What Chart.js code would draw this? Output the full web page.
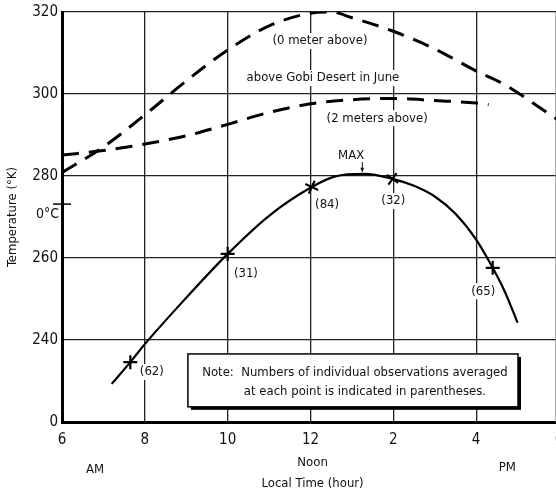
<!DOCTYPE html>
<html>
<head>
<meta charset="utf-8">
<title>Temperature above Gobi Desert in June</title>
<script src="https://cdn.jsdelivr.net/npm/chart.js@4.4.1/dist/chart.umd.min.js"></script>
<style>
  html, body { margin: 0; padding: 0; background: #fff; overflow: hidden; }
  canvas { display: block; }
</style>
</head>
<body>
<canvas id="chart" width="562" height="491"></canvas>
<script>
// ground surface (0 meter above)
var hours0m = [6, 7, 8, 9, 10, 11, 12, 12.5, 13, 14, 15, 16, 16.7, 17.3, 18];
var temps0m = [280.8, 287.1, 294.9, 303.2, 310.7, 316.6, 319.7, 320, 318.6, 315.3, 311, 305.6, 302.2, 298.3, 293.5];

// 2 meters above
var hours2m = [6, 7, 8, 9, 10, 11, 12, 13, 14, 15, 16, 16.3];
var temps2m = [285.1, 286.2, 287.8, 289.8, 292.6, 295.5, 297.6, 298.6, 298.9, 298.4, 297.8, 297.4];

// observed curve
var hoursObs = [7.2, 7.65, 8, 9, 10, 11, 12.03, 12.6, 13.3, 13.98, 14.5, 15, 15.5, 16, 16.4, 16.7, 17];
var tempsObs = [229.3, 234.6, 239, 250.3, 261, 270.3, 277.3, 279.9, 280.5, 279.3, 277.6, 275, 270.8, 264.5, 257.6, 251.6, 244.2];

// averaged points and number of observations
var pointHours = [7.65, 10, 12.03, 13.98, 16.4];
var pointTemps = [234.6, 261, 277.3, 279.3, 257.6];
var pointCounts = ['(62)', '(31)', '(84)', '(32)', '(65)'];

var xTicks = [6, 8, 10, 12, 2, 4, 6];
var yTicks = ['0', '240', '260', '280', '300', '320'];

var FONT = "'Liberation Sans Narrow', 'DejaVu Sans Condensed', 'Arial Narrow', sans-serif";

function toPoints(xs, ys) {
  return xs.map(function (x, i) { return { x: x, y: ys[i] }; });
}

// text placed in data units: [text, hour, temp]
var notes = [
  ['(0 meter above)', 12.23, 312.9],
  ['above Gobi Desert in June', 12.3, 303.9],
  ['(2 meters above)', 13.61, 294.1],
  ['MAX', 12.98, 284.9]
];
var countPos = [[8.17, 232.2], [10.44, 256.3], [12.4, 272.9], [14.0, 273.9], [16.17, 251.9]];

var extras = {
  id: 'extras',
  beforeDatasetsDraw: function (chart) {
    var ctx = chart.ctx, x = chart.scales.x, y = chart.scales.y, a = chart.chartArea;
    ctx.save();
    ctx.font = '13px ' + FONT;
    ctx.fillStyle = '#fff';
    notes.forEach(function (n) {
      var w = ctx.measureText(n[0]).width;
      ctx.fillRect(x.getPixelForValue(n[1]) - w / 2 - 2, y.getPixelForValue(n[2]) - 8, w + 4, 16);
    });
    countPos.forEach(function (p, i) {
      var w = ctx.measureText(pointCounts[i]).width;
      ctx.fillRect(x.getPixelForValue(p[0]) - w / 2 - 2, y.getPixelForValue(p[1]) - 8, w + 4, 16);
    });
    // right frame line
    ctx.strokeStyle = '#888';
    ctx.lineWidth = 1.5;
    ctx.beginPath();
    ctx.moveTo(x.getPixelForValue(17.93), a.top);
    ctx.lineTo(x.getPixelForValue(17.93), a.bottom);
    ctx.stroke();
    ctx.restore();
  },
  afterDatasetsDraw: function (chart) {
    var ctx = chart.ctx, x = chart.scales.x, y = chart.scales.y, a = chart.chartArea;
    ctx.save();
    ctx.fillStyle = '#111';
    ctx.textAlign = 'center';
    ctx.textBaseline = 'middle';
    ctx.font = '13px ' + FONT;
    notes.forEach(function (n) {
      ctx.fillText(n[0], x.getPixelForValue(n[1]), y.getPixelForValue(n[2]));
    });
    countPos.forEach(function (p, i) {
      ctx.fillText(pointCounts[i], x.getPixelForValue(p[0]), y.getPixelForValue(p[1]));
    });

    // MAX arrow
    var ax = x.getPixelForValue(13.25);
    ctx.strokeStyle = '#111';
    ctx.lineWidth = 1;
    ctx.beginPath();
    ctx.moveTo(ax, y.getPixelForValue(283.4));
    ctx.lineTo(ax, y.getPixelForValue(281));
    ctx.stroke();
    ctx.beginPath();
    ctx.moveTo(ax - 2, y.getPixelForValue(282));
    ctx.lineTo(ax + 2, y.getPixelForValue(282));
    ctx.lineTo(ax, y.getPixelForValue(281));
    ctx.closePath();
    ctx.fill();

    // note box with shadow
    var bx1 = x.getPixelForValue(9.04), bx2 = x.getPixelForValue(17.01);
    var by1 = y.getPixelForValue(236.6), by2 = y.getPixelForValue(223.7);
    ctx.fillStyle = '#000';
    ctx.fillRect(bx1 + 3, by1 + 3, bx2 - bx1, by2 - by1);
    ctx.fillStyle = '#fff';
    ctx.fillRect(bx1, by1, bx2 - bx1, by2 - by1);
    ctx.strokeStyle = '#000';
    ctx.lineWidth = 1.5;
    ctx.strokeRect(bx1, by1, bx2 - bx1, by2 - by1);
    ctx.fillStyle = '#111';
    ctx.fillText('Note:  Numbers of individual observations averaged', (bx1 + bx2) / 2 + 2, by1 + 19);
    ctx.fillText('at each point is indicated in parentheses.', (bx1 + bx2) / 2 + 12, by1 + 38);

    // 0 deg C mark
    var cy = y.getPixelForValue(273.15);
    ctx.lineWidth = 1.5;
    ctx.beginPath();
    ctx.moveTo(a.left - 9, cy);
    ctx.lineTo(a.left + 9, cy);
    ctx.stroke();
    ctx.textAlign = 'right';
    ctx.font = '14px ' + FONT;
    ctx.fillText('0\u00B0C', a.left - 3, cy + 10);

    // axis titles
    ctx.textAlign = 'center';
    ctx.font = '13px ' + FONT;
    ctx.fillText('AM', x.getPixelForValue(6.8), 470);
    ctx.fillText('Noon', x.getPixelForValue(12.05), 463);
    ctx.fillText('PM', x.getPixelForValue(16.75), 468);
    ctx.fillText('Local Time (hour)', x.getPixelForValue(12.05), 484);
    ctx.translate(13, 217);
    ctx.rotate(-Math.PI / 2);
    ctx.fillText('Temperature (\u00B0K)', 0, 0);
    ctx.restore();
  }
};

new Chart(document.getElementById('chart'), {
  type: 'line',
  data: {
    datasets: [
      {
        data: toPoints(hours0m, temps0m),
        borderColor: '#000', borderWidth: 3, borderDash: [17, 10],
        pointRadius: 0, cubicInterpolationMode: 'monotone', fill: false
      },
      {
        data: toPoints(hours2m, temps2m),
        borderColor: '#000', borderWidth: 3, borderDash: [17, 10],
        pointRadius: 0, cubicInterpolationMode: 'monotone', fill: false
      },
      {
        data: toPoints(hoursObs, tempsObs),
        borderColor: '#000', borderWidth: 2.2,
        pointRadius: 0, cubicInterpolationMode: 'monotone', fill: false
      },
      {
        type: 'scatter',
        data: toPoints(pointHours, pointTemps),
        showLine: false,
        pointStyle: 'cross',
        pointRadius: 7,
        pointBorderWidth: 2.2,
        pointBorderColor: '#000',
        pointRotation: [0, 0, 25, 35, 0]
      }
    ]
  },
  options: {
    responsive: false,
    animation: false,
    devicePixelRatio: 1,
    layout: { autoPadding: false, padding: { top: 12, right: 3, left: 0, bottom: 0 } },
    plugins: { legend: { display: false }, tooltip: { enabled: false } },
    scales: {
      x: {
        type: 'linear', min: 6, max: 18,
        afterFit: function (s) { s.height = 69; s.paddingLeft = 0; s.paddingRight = 0; },
        grid: { color: '#222', lineWidth: 1.3, drawTicks: false },
        border: { color: '#000', width: 3 },
        ticks: {
          stepSize: 2, padding: 9, color: '#111',
          font: { family: FONT, size: 15 },
          callback: function (v) { return xTicks[(v - 6) / 2]; }
        }
      },
      y: {
        min: 220, max: 320,
        afterFit: function (s) { s.width = 62; s.paddingTop = 0; s.paddingBottom = 0; },
        grid: { color: '#222', lineWidth: 1.3, drawTicks: false },
        border: { color: '#000', width: 3 },
        ticks: {
          stepSize: 20, padding: 4, color: '#111',
          font: { family: FONT, size: 15 },
          callback: function (v) { return yTicks[(v - 220) / 20]; }
        }
      }
    }
  },
  plugins: [extras]
});
</script>
</body>
</html>
